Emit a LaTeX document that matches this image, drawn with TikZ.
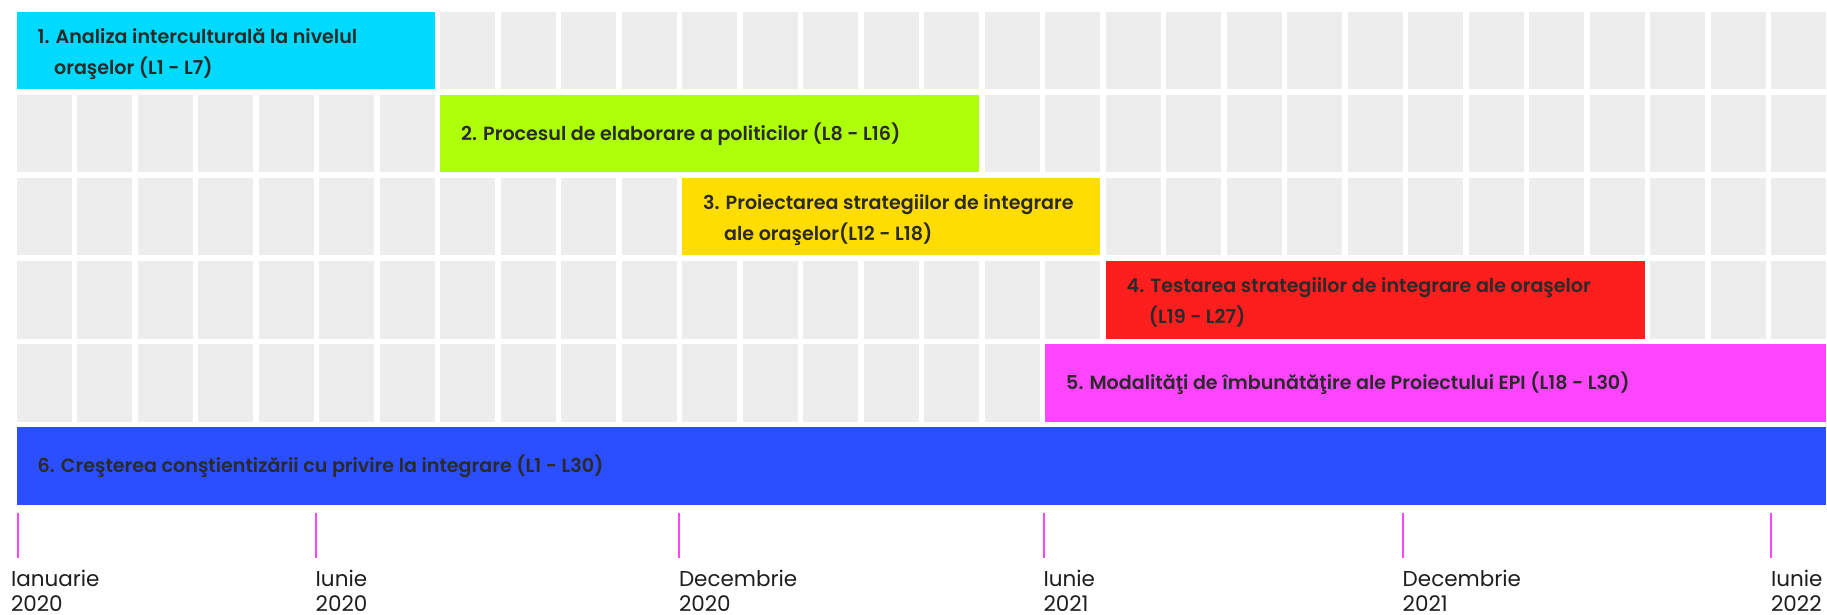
\documentclass[tikz,border=0pt]{standalone}
\usepackage{fontspec}
\usetikzlibrary{calc}
\newfontfamily\barfont{Poppins SemiBold}
\newfontfamily\labfont{Poppins}
\definecolor{cellgray}{HTML}{EDEDED}
\definecolor{cyanbar}{HTML}{00DAFF}
\definecolor{greenbar}{HTML}{AEFF0A}
\definecolor{yellowbar}{HTML}{FFDD00}
\definecolor{redbar}{HTML}{FF1E1E}
\definecolor{magbar}{HTML}{FF45FF}
\definecolor{bluebar}{HTML}{2B4EFF}
\definecolor{bartextc}{HTML}{2A2A2A}
\definecolor{labc}{HTML}{1E1E1E}
\definecolor{tickc}{HTML}{FF45FF}
\tikzset{
  bar/.style={rectangle, inner sep=0pt, outer sep=0pt, draw=none, minimum height=77.6pt, anchor=north west},
  bartext/.style={inner sep=0pt, outer sep=0pt, anchor=base west, text=bartextc, font=\barfont\fontsize{19.1}{21}\selectfont},
  lab/.style={inner sep=0pt, outer sep=0pt, anchor=base west, text=labc, font=\labfont\fontsize{21.5}{24}\selectfont},
  tickline/.style={draw=tickc, line width=2pt},
}
\begin{document}
\begin{tikzpicture}[x=1pt,y=1pt]
\useasboundingbox (0,0) rectangle (1827,614);
\fill[white] (0,0) rectangle (1827,614);
% grid cells
\foreach \i in {1,...,6}{
  \foreach \j in {1,...,30}{
    \fill[cellgray] ({16.7+(\j-1)*60.5},{602.3-(\i-1)*83.1}) rectangle +(55,-77.6);
  }
}
% bars
\node[bar, fill=cyanbar,   minimum width=418pt]    (b1) at (16.7,602.3) {};
\node[bar, fill=greenbar,  minimum width=539pt]    (b2) at (440.2,519.2) {};
\node[bar, fill=yellowbar, minimum width=418pt]    (b3) at (682.2,436.1) {};
\node[bar, fill=redbar,    minimum width=539pt]    (b4) at (1105.7,353.0) {};
\node[bar, fill=magbar,    minimum width=781pt]    (b5) at (1045.2,269.9) {};
\node[bar, fill=bluebar,   minimum width=1809.5pt] (b6) at (16.7,186.8) {};
% bar texts
\node[bartext] (t1a) at ($(b1.west)+(21,7.2)$) {1. Analiza interculturală la nivelul};
\node[bartext] (t1b) at ($(b1.west)+(21,-24)$) {\phantom{1.\ }oraşelor (L1 - L7)};
\node[bartext] (t2)  at ($(b2.west)+(21,-6.7)$) {2. Procesul de elaborare a politicilor (L8 - L16)};
\node[bartext] (t3a) at ($(b3.west)+(21,7.2)$) {3. Proiectarea strategiilor de integrare};
\node[bartext] (t3b) at ($(b3.west)+(21,-24)$) {\phantom{3.\ }ale oraşelor(L12 - L18)};
\node[bartext] (t4a) at ($(b4.west)+(21,7.2)$) {4. Testarea strategiilor de integrare ale oraşelor};
\node[bartext] (t4b) at ($(b4.west)+(21,-24)$) {\phantom{4.\ }(L19 - L27)};
\node[bartext] (t5)  at ($(b5.west)+(21,-6.7)$) {5. Modalităţi de îmbunătăţire ale Proiectului EPI (L18 - L30)};
\node[bartext] (t6)  at ($(b6.west)+(21,-6.7)$) {6. Creşterea conştientizării cu privire la integrare (L1 - L30)};
% ticks
\foreach \n/\x in {1/17.7, 2/315.7, 3/679, 4/1043.5, 5/1402.7, 6/1771}{
  \coordinate (tk\n a) at (\x,101.3);
  \coordinate (tk\n b) at (\x,56.3);
  \draw[tickline] (tk\n a) -- (tk\n b);
}
% labels
\node[lab] (l1a) at (11,27.8) {Ianuarie};
\node[lab] (l1b) at (11,2.8) {2020};
\node[lab] (l2a) at (315.7,27.8) {Iunie};
\node[lab] (l2b) at (315.7,2.8) {2020};
\node[lab] (l3a) at (679,27.8) {Decembrie};
\node[lab] (l3b) at (679,2.8) {2020};
\node[lab] (l4a) at (1043.5,27.8) {Iunie};
\node[lab] (l4b) at (1043.5,2.8) {2021};
\node[lab] (l5a) at (1402.7,27.8) {Decembrie};
\node[lab] (l5b) at (1402.7,2.8) {2021};
\node[lab] (l6a) at (1771,27.8) {Iunie};
\node[lab] (l6b) at (1771,2.8) {2022};
\end{tikzpicture}
\end{document}
